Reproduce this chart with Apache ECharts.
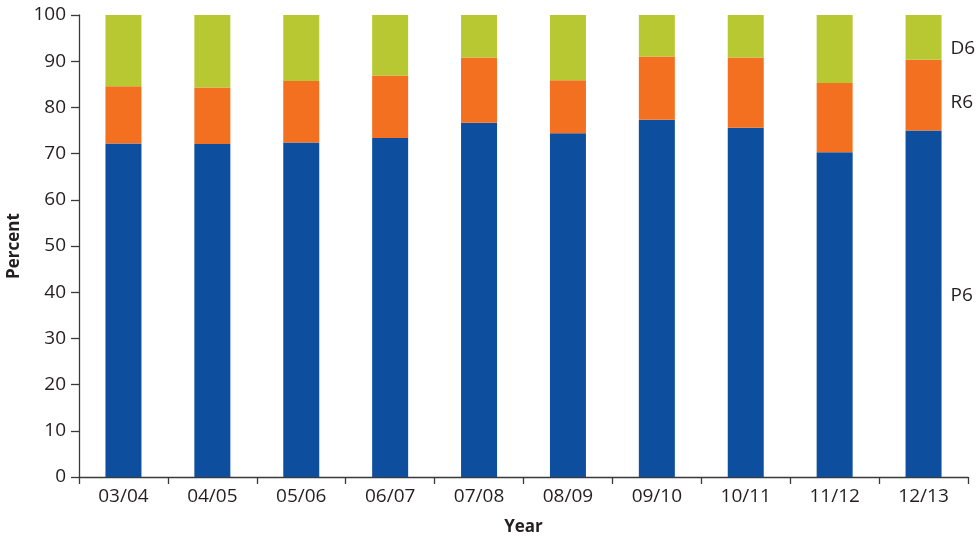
<!DOCTYPE html>
<html>
<head>
<meta charset="utf-8">
<script src="https://cdn.jsdelivr.net/npm/echarts@6/dist/echarts.min.js"></script>
<style>
  html, body { margin: 0; padding: 0; background: #fff; }
  #chart { width: 980px; height: 540px; }
</style>
</head>
<body>
<div id="chart"></div>
<script>
// Share of outcomes per academic year (percent, stacked to 100)
const years = ['03/04', '04/05', '05/06', '06/07', '07/08', '08/09', '09/10', '10/11', '11/12', '12/13'];
const p6 = [72.2, 72.1, 72.4, 73.4, 76.7, 74.4, 77.3, 75.6, 70.3, 75.0];
const r6 = [12.4, 12.2, 13.3, 13.5, 14.1, 11.5, 13.7, 15.2, 15.0, 15.3];
const d6 = [15.4, 15.7, 14.3, 13.1, 9.2, 14.1, 9.0, 9.2, 14.7, 9.7];
const yTicks = [0, 10, 20, 30, 40, 50, 60, 70, 80, 90, 100];

const FONT = '"Open Sans", "Noto Sans", sans-serif';
const TEXT = '#231f20';
const AXIS = '#3a3a3a';

// label the final bar of a series with its name, to the right of the bar
function withEndLabel(values, name, dy) {
  return values.map((v, i) => i === values.length - 1
    ? { value: v, label: { show: true, position: 'right', distance: 9, offset: [0, dy],
        formatter: name, color: TEXT, fontSize: 19, fontFamily: FONT } }
    : v);
}

function barSeries(name, values, color, dy) {
  return {
    name, type: 'bar', stack: 'total', barWidth: 36,
    itemStyle: { color },
    emphasis: { disabled: true },
    data: withEndLabel(values, name, dy)
  };
}

const chart = echarts.init(document.getElementById('chart'), null, { renderer: 'canvas' });
chart.setOption({
  animation: false,
  textStyle: { fontFamily: FONT },
  grid: { left: 79, right: 12, top: 15, bottom: 63, containLabel: false, outerBoundsMode: 'none' },
  xAxis: {
    type: 'category',
    data: years,
    name: 'Year',
    nameLocation: 'middle',
    nameGap: 42,
    nameTextStyle: { fontWeight: 'bold', fontSize: 17, color: TEXT, fontFamily: FONT },
    axisLine: { lineStyle: { color: AXIS, width: 1.3 } },
    axisTick: { show: true, length: 7, alignWithLabel: false, lineStyle: { color: AXIS, width: 1.3 } },
    axisLabel: { color: TEXT, fontSize: 19, margin: 10, fontFamily: FONT },
    splitLine: { show: false }
  },
  yAxis: {
    type: 'value',
    min: yTicks[0],
    max: yTicks[yTicks.length - 1],
    interval: yTicks[1] - yTicks[0],
    name: 'Percent',
    nameLocation: 'middle',
    nameGap: 55,
    nameRotate: 90,
    nameTextStyle: { fontWeight: 'bold', fontSize: 17, color: TEXT, fontFamily: FONT },
    axisLine: { show: true, lineStyle: { color: AXIS, width: 1.3 } },
    axisTick: { show: true, length: 8, lineStyle: { color: AXIS, width: 1.3 } },
    axisLabel: { color: TEXT, fontSize: 19, margin: 13, fontFamily: FONT },
    splitLine: { show: false }
  },
  series: [
    barSeries('P6', p6, '#0d4f9e', -8),
    barSeries('R6', r6, '#f37021', 7),
    barSeries('D6', d6, '#b8c833', 11)
  ]
});
</script>
</body>
</html>
